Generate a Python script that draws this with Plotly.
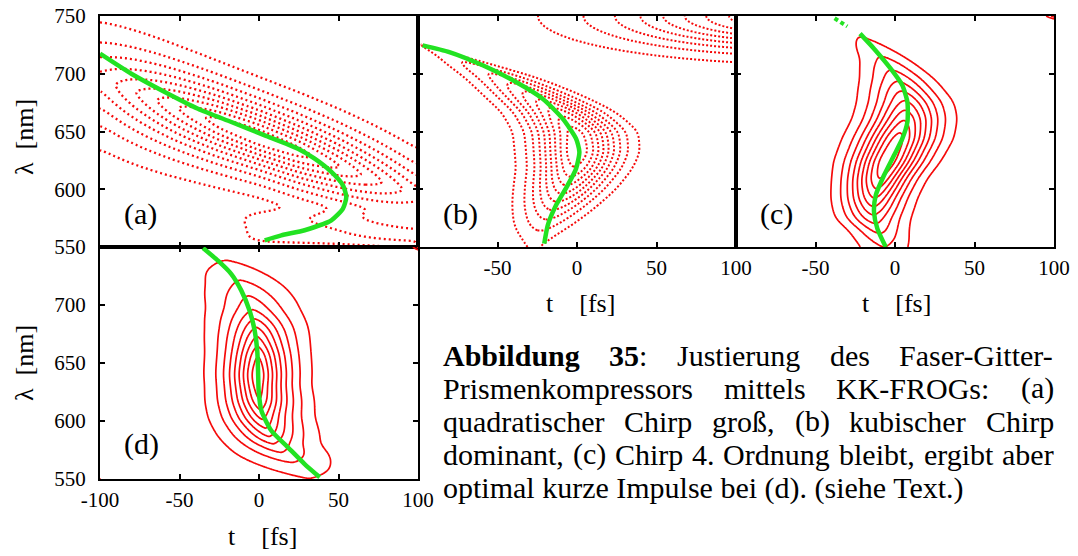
import numpy as np
import plotly.graph_objects as go

W, H = 1078, 556
RED = "rgb(245,10,10)"
GREEN = "rgb(34,226,34)"
FONT = "Times New Roman, Liberation Serif, DejaVu Serif, serif"

# ---------------- data ----------------
ticks_t = [-100, -50, 0, 50, 100]
ticks_lam = [550, 600, 650, 700, 750]
levels = dict(start=0.1, end=0.9, size=0.1)

# panel (a): trace along a tilted ridge (knots in t)
a_t = [-100, -75, -50, -25, 0, 25, 50, 75, 100]
a_ridge = [695, 682.5, 670, 657.5, 645, 632.5, 620, 607.5, 595]
a_amp = [0.424, 0.617, 0.807, 0.948, 1.0, 0.948, 0.807, 0.617, 0.424]
a_width_up = [39, 36, 33, 31, 30, 30, 30.5, 31, 31]
a_width_dn = [47, 42, 37, 33, 30, 30, 30, 31, 31]
a_green_t = [-100, -80.3, -59.3, -38.4, -17.4, 3.6, 24.5, 35.0, 45.5, 52.8, 54.9, 52.8, 45.5, 28.7, 14.0, 3.6]
a_green_l = [717.4, 700.0, 684.2, 669.7, 658.2, 646.7, 635.1, 626.5, 615.0, 603.4, 593.3, 583.2, 573.1, 564.5, 560.1, 555.8]

# panel (b): knots in lambda
b_lam = [545, 557, 566, 580, 600, 618, 632, 650, 667, 681, 696, 710, 719, 730, 750]
b_amp = [0.074, 0.14, 0.212, 0.368, 0.656, 0.895, 0.992, 0.949, 0.758, 0.551, 0.343, 0.194, 0.126, 0.07, 0.02]
b_center = [-29, -25.8, -22.7, -16.4, -7.8, -1.7, 0.2, -0.9, -11.5, -27.4, -46.8, -71, -86.6, -107, -140]
b_width = [13, 15.2, 18.5, 20.7, 22.7, 23.7, 24.8, 25.2, 24.3, 23.1, 20.4, 15.2, 9.3, 6, 5]
b_green_t = [-97.1, -80.3, -59.3, -38.4, -21.6, -9.0, -0.6, 1.5, -0.6, -5.9, -13.2, -18.4, -20.6]
b_green_l = [724.6, 718.8, 707.3, 692.9, 678.4, 661.1, 643.8, 632.3, 617.8, 603.4, 586.1, 568.8, 552.9]

# panel (c)
c_lam = [545, 550, 563, 574.5, 592, 609, 624, 644, 661, 675.5, 696, 713, 729, 740, 750]
c_amp = [0.148, 0.185, 0.309, 0.452, 0.698, 0.905, 0.996, 0.946, 0.79, 0.614, 0.368, 0.21, 0.11, 0.066, 0.04]
c_center = [-5, -6.5, -9.7, -13.9, -13.2, -9.9, -5, 1.8, 6.1, 6.5, 1.2, -6.9, -19.5, -28, -36]
c_width = [19, 18.8, 17, 18.5, 18.4, 18.9, 20.7, 21.9, 21.6, 21.5, 19.9, 17.4, 16, 12, 10]
c_green_t = [-22.0, -13.2, -2.7, 4.6, 7.8, 7.8, 4.6, -0.6, -6.9, -12.1, -13.2, -11.1, -5.8]
c_green_l = [734.7, 721.7, 704.4, 690.0, 675.5, 658.2, 643.8, 629.4, 612.1, 594.8, 580.3, 565.9, 550.0]
c_green2_t = [-38, -30]
c_green2_l = [748, 741]

# panel (d)
d_lam_amp = [540, 552, 565, 573, 581, 586, 594, 601, 610, 617, 640, 657, 664, 673, 681, 688, 695, 708, 721, 738, 750]
d_amp = [0.02, 0.1, 0.2, 0.3, 0.4, 0.5, 0.6, 0.7, 0.8, 0.9, 1.0, 0.9, 0.8, 0.7, 0.6, 0.5, 0.4, 0.3, 0.2, 0.1, 0.05]
d_lam = [550, 554, 566, 580, 603, 632, 658, 681, 701, 718, 730, 745]
d_center = [33, 29.75, 19, 8.25, 1.45, -0.65, -0.65, -1.6, -4.5, -9.5, -16.8, -24]
d_width = [35, 35, 30.9, 23.8, 21, 19.1, 19.5, 21.7, 24.6, 27.5, 30.5, 30]
d_green_t = [-35.2, -25.8, -17.4, -11.1, -5.9, -2.7, -1.1, -0.6, -0.2, 1.5, 7.8, 18.2, 28.7, 38.2]
d_green_l = [749.1, 738.2, 726.7, 712.4, 695.1, 677.8, 660.6, 643.4, 626.1, 608.9, 591.6, 577.3, 562.9, 551.5]

# small side lobes: (amplitude, t0, lam0, width_t, width_lam)
a_lobes = [(1.0, 106, 545, 6, 6)]
b_lobes = [(1.0, 150, 750, 115, 27.5)]
c_lobes = [(1.0, 108, 754, 10, 5)]
d_lobes = [(1.0, -108, 546, 6, 6), (1.0, 107, 755, 8, 6)]

# caption
caption_lines = [
    ["<b>Abbildung</b>", "<b>35</b>:", "Justierung", "des", "Faser-Gitter-"],
    ["Prismenkompressors", "mittels", "KK-FROGs:", "(a)"],
    ["quadratischer", "Chirp", "groß,", "(b)", "kubischer", "Chirp"],
    ["dominant,", "(c)", "Chirp", "4.", "Ordnung", "bleibt,", "ergibt", "aber"],
]
caption_last = "optimal kurze Impulse bei (d). (siehe Text.)"

# ---------------- field construction ----------------
t = np.arange(-100, 100.5, 1.0)
lam = np.arange(550, 750.5, 1.0)
T, L = np.meshgrid(t, lam)


def sm(xk, yk, xg, s=4.0):
    y = np.interp(xg, xk, yk)
    n = int(3 * s)
    k = np.exp(-0.5 * (np.arange(-n, n + 1) / s) ** 2)
    k /= k.sum()
    return np.convolve(np.pad(y, n, mode="edge"), k, mode="valid")


def lobes(lst):
    z = np.zeros_like(T)
    for amp, t0, l0, st, sl in lst:
        z += amp * np.exp(-((T - t0) / st) ** 2 - ((L - l0) / sl) ** 2)
    return z


def row_field(lk, ak, ck, wk, q, lam_amp=None):
    A_ = sm(lam_amp if lam_amp is not None else lk, ak, lam)
    C = sm(lk, ck, lam)
    Wd = sm(lk, wk, lam)
    return A_[:, None] * np.exp(-np.abs((T - C[:, None]) / Wd[:, None]) ** q)


G = sm(a_t, a_amp, t)
R = sm(a_t, a_ridge, t)
Bu = sm(a_t, a_width_up, t)
Bd = sm(a_t, a_width_dn, t)
D = L - R[None, :]
Bsel = np.where(D > 0, Bu[None, :], Bd[None, :])
Za = G[None, :] * np.exp(-np.abs(D / Bsel) ** 1.5)
Za += 0.135 * np.exp(-((T - 55) / 70) ** 8) * np.exp(-((L - 566) / 15) ** 4)
Za += lobes(a_lobes)

Zb = row_field(b_lam, b_amp, b_center, b_width, 1.8) + lobes(b_lobes)
Zc = row_field(c_lam, c_amp, c_center, c_width, 1.7) + lobes(c_lobes)
Zd = row_field(d_lam, d_amp, d_center, d_width, 1.45, lam_amp=d_lam_amp) + lobes(d_lobes)

# ---------------- figure ----------------
fig = go.Figure()
panels = [
    ("x", "y", Za, "2px,3px", 2.3, a_green_t, a_green_l),
    ("x2", "y2", Zb, "2px,2px", 2.0, b_green_t, b_green_l),
    ("x3", "y3", Zc, "solid", 1.7, c_green_t, c_green_l),
    ("x4", "y4", Zd, "solid", 1.7, d_green_t, d_green_l),
]
for xa, ya, Z, dash, lw, gt, gl in panels:
    fig.add_trace(go.Contour(
        x=t, y=lam, z=Z, xaxis=xa, yaxis=ya,
        contours=dict(coloring="lines", **levels),
        colorscale=[[0, RED], [1, RED]], showscale=False,
        line=dict(width=lw, dash=dash, smoothing=1), hoverinfo="skip"))
    fig.add_trace(go.Scatter(
        x=gt, y=gl, xaxis=xa, yaxis=ya, mode="lines",
        line=dict(color=GREEN, width=4.5, shape="spline", smoothing=0.6),
        hoverinfo="skip", showlegend=False))
fig.add_trace(go.Scatter(
    x=c_green2_t, y=c_green2_l, xaxis="x3", yaxis="y3", mode="lines",
    line=dict(color=GREEN, width=4, dash="4px,3px"),
    hoverinfo="skip", showlegend=False))


def px(X):
    return X / W


def py(Y):
    return 1 - Y / H


doms = {
    "": ([px(100), px(418)], [py(247), py(16)]),
    "2": ([px(418), px(736)], [py(247), py(16)]),
    "3": ([px(736), px(1054)], [py(247), py(16)]),
    "4": ([px(100), px(418)], [py(479), py(247)]),
}
xlabels = {
    "": ["", "", "", "", ""],
    "2": ["", "-50", "0", "50", "100"],
    "3": ["", "-50", "0", "50", "100"],
    "4": ["-100", "-50", "0", "50", "100"],
}
ylabels = {
    "": ["550", "600", "650", "700", "750"],
    "2": ["", "", "", "", ""],
    "3": ["", "", "", "", ""],
    "4": ["550", "600", "650", "700", ""],
}
common = dict(showline=True, linewidth=2, linecolor="black", mirror="ticks",
              ticks="inside", ticklen=5, tickwidth=1.5, tickcolor="black",
              showgrid=False, zeroline=False, automargin=False,
              ticklabeloverflow="allow",
              tickfont=dict(family=FONT, size=21, color="black"))
layout = {}
for k, (xd, yd) in doms.items():
    layout["xaxis" + k] = dict(domain=xd, range=[-100, 100], anchor="y" + k,
                               tickvals=ticks_t, ticktext=xlabels[k],
                               ticklabelstandoff=1, **common)
    layout["yaxis" + k] = dict(domain=yd, range=[550, 750], anchor="x" + k,
                               tickvals=ticks_lam, ticktext=ylabels[k],
                               ticklabelstandoff=8, **common)

ann = []


def A(x, y, text, size=26, xa="center", ya="middle", angle=0):
    ann.append(dict(x=px(x), y=py(y), xref="paper", yref="paper", text=text,
                    showarrow=False, xanchor=xa, yanchor=ya, textangle=angle,
                    font=dict(family=FONT, size=size, color="black")))


# panel labels
A(140, 214, "(a)", 30)
A(460, 214, "(b)", 30)
A(776, 214, "(c)", 30)
A(141, 444, "(d)", 30)
# axis titles
nb = "\u00a0"
A(580, 303, "t" + nb * 4 + "[fs]")
A(896, 303, "t" + nb * 4 + "[fs]")
A(262, 536, "t" + nb * 4 + "[fs]")
A(24, 137, "\u03bb" + nb * 2 + "[nm]", angle=-90)
A(24, 363, "\u03bb" + nb * 2 + "[nm]", angle=-90)

# caption: justified lines (Times advance widths, 1/1000 em)
TW = {" ": 250, "(": 333, ")": 333, ",": 250, "-": 333, ".": 250, ":": 278, "4": 500,
      "A": 722, "C": 667, "F": 556, "G": 722, "J": 389, "K": 722, "O": 722, "P": 556,
      "R": 667, "S": 556, "T": 611, "I": 333,
      "a": 444, "b": 500, "c": 444, "d": 500, "e": 444, "f": 333, "g": 500, "h": 500,
      "i": 278, "k": 500, "l": 278, "m": 778, "n": 500, "o": 500, "p": 500, "q": 500,
      "r": 333, "s": 389, "t": 278, "u": 500, "x": 500, "z": 444, "ß": 500}
TWB = {"A": 722, "b": 556, "i": 278, "l": 278, "d": 556, "u": 556, "n": 556, "g": 500,
       "3": 500, "5": 500}


def word_width(w, size):
    tot, bold, i = 0, False, 0
    while i < len(w):
        if w.startswith("<b>", i):
            bold, i = True, i + 3
            continue
        if w.startswith("</b>", i):
            bold, i = False, i + 4
            continue
        ch = w[i]
        tot += (TWB.get(ch, 500) if bold else TW.get(ch, 500))
        i += 1
    return tot * size / 1000.0


CAP_SIZE = 30
X0, X1 = 441, 1052
cap_y = [355, 388, 421, 454]
for y, words in zip(cap_y, caption_lines):
    widths = [word_width(w, CAP_SIZE) for w in words]
    gap = (X1 - X0 - sum(widths)) / (len(words) - 1)
    x = X0
    for w, wd in zip(words, widths):
        A(x, y, w, CAP_SIZE, xa="left")
        x += wd + gap
A(X0, 488, caption_last, CAP_SIZE, xa="left")

fig.update_layout(width=W, height=H, margin=dict(l=0, r=0, t=0, b=0),
                  paper_bgcolor="white", plot_bgcolor="white", showlegend=False,
                  font=dict(family=FONT), annotations=ann, **layout)
fig.write_html("out.html", config={"displayModeBar": False},
               post_script="document.body.style.margin='0px';"
                           "document.body.style.overflow='hidden';")
